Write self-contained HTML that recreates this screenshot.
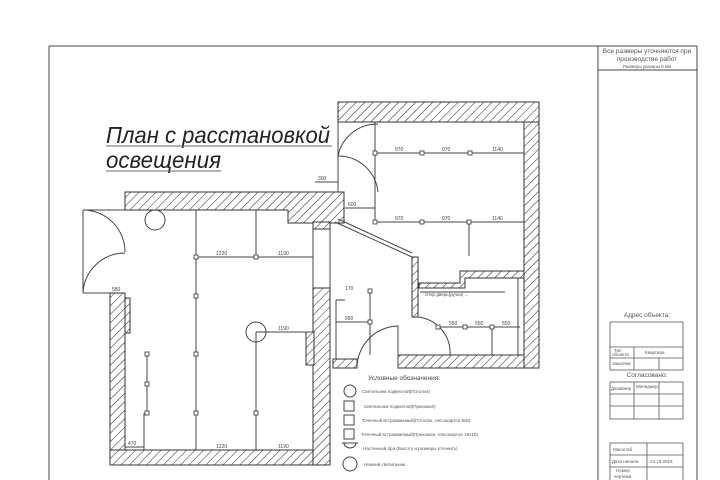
<!DOCTYPE html>
<html><head><meta charset="utf-8"><style>
html,body{margin:0;padding:0;background:#fff;}
svg{display:block;font-family:"Liberation Sans","Noto Sans CJK SC",sans-serif;}
</style></head><body>
<svg width="720" height="480" viewBox="0 0 720 480" xmlns="http://www.w3.org/2000/svg">
<defs>
<pattern id="h" patternUnits="userSpaceOnUse" width="6" height="6" patternTransform="rotate(45)">
<rect width="6" height="6" fill="#fff"/><line x1="0" y1="0" x2="0" y2="6" stroke="#333" stroke-width="1.1"/>
</pattern>
</defs>
<rect width="720" height="480" fill="#fff"/>
<g stroke="#444" stroke-width="1" fill="none">
<line x1="49" y1="46" x2="697" y2="46"/>
<line x1="49" y1="46" x2="49" y2="480"/>
<line x1="598" y1="46" x2="598" y2="480"/>
<line x1="697" y1="46" x2="697" y2="480"/>
<line x1="598" y1="70" x2="697" y2="70"/>
</g>
<g font-size="6.5" fill="#555" text-anchor="middle">
<text x="647" y="53">Все размеры уточняются при</text>
<text x="647" y="61">производстве работ</text>
<text x="647" y="68" font-size="4.5">Размеры указаны в мм</text>
</g>
<g font-style="italic" font-size="23" fill="#222">
<text x="106" y="143" textLength="224" lengthAdjust="spacingAndGlyphs">План с расстановкой</text>
<text x="106" y="168" textLength="115" lengthAdjust="spacingAndGlyphs">освещения</text>
</g>
<line x1="106" y1="146" x2="332" y2="146" stroke="#666"/>
<line x1="106" y1="171" x2="221" y2="171" stroke="#666"/>
<g fill="url(#h)" stroke="#333" stroke-width="1">
<polygon points="125,192 344,192 344,223 288,223 288,210 125,210"/>
<rect x="110" y="293" width="15" height="172"/>
<rect x="125" y="298" width="5" height="35"/>
<rect x="110" y="450" width="220" height="15"/>
<rect x="313" y="288" width="17" height="177"/>
<rect x="306" y="332" width="8" height="33"/>
<rect x="313" y="222" width="17" height="7"/>
<rect x="338" y="102" width="201" height="20"/>
<rect x="524" y="122" width="15" height="246"/>
<rect x="398" y="355" width="126" height="13"/>
<rect x="333" y="359" width="24" height="9"/>
<rect x="412" y="257" width="6" height="60"/>
<polygon points="460,271 524,271 524,278 465,278 465,288 419,288 419,283 460,283"/>
</g>
<g stroke="#444" stroke-width="1" fill="none">
<line x1="313" y1="229" x2="313" y2="288"/>
<line x1="330" y1="229" x2="330" y2="288"/>
<line x1="338" y1="122" x2="338" y2="192"/>
<line x1="335" y1="222" x2="412" y2="257"/>
<line x1="338" y1="219" x2="412" y2="253"/>
<line x1="518" y1="278" x2="518" y2="355"/>
<line x1="83" y1="210" x2="83" y2="293"/>
<line x1="83" y1="210" x2="125" y2="210"/>
<line x1="83" y1="293" x2="110" y2="293"/>
<path d="M83,210 A42,42 0 0 1 125,252"/>
<path d="M125,253 A42,42 0 0 0 83,293"/>
<path d="M338,156 A40,40 0 0 1 378,192"/>
<path d="M338,156 A40,40 0 0 1 378,124"/>
<path d="M418,317 A36,36 0 0 1 450,355"/>
<path d="M357,368 A42,42 0 0 1 398,326 L398,368"/>
<line x1="336" y1="300" x2="336" y2="359"/>
<line x1="336" y1="300" x2="345" y2="300"/>
<circle cx="155" cy="220" r="10"/>
<circle cx="256" cy="332" r="10"/>
<line x1="196" y1="210" x2="196" y2="450"/>
<line x1="196" y1="257" x2="313" y2="257"/>
<line x1="256" y1="210" x2="256" y2="257"/>
<line x1="256" y1="332" x2="313" y2="332"/>
<line x1="256" y1="332" x2="256" y2="450"/>
<line x1="147" y1="354" x2="147" y2="413"/>
<line x1="144" y1="413" x2="144" y2="450"/>
<line x1="125" y1="447" x2="144" y2="447"/>
<line x1="375" y1="122" x2="375" y2="222"/>
<line x1="375" y1="153" x2="524" y2="153"/>
<line x1="375" y1="222" x2="524" y2="222"/>
<line x1="469" y1="222" x2="469" y2="256"/>
<line x1="438" y1="327" x2="520" y2="327"/>
<line x1="492" y1="327" x2="492" y2="355"/>
<line x1="370" y1="290" x2="370" y2="355"/>
<line x1="336" y1="322" x2="370" y2="322"/>
<line x1="345" y1="208" x2="375" y2="208"/>
<line x1="315" y1="182" x2="338" y2="182"/>
<line x1="420" y1="292" x2="505" y2="292"/>
</g>
<g fill="#fff" stroke="#333" stroke-width="0.8">
<rect x="194" y="255" width="4" height="4"/><rect x="194" y="294" width="4" height="4"/>
<rect x="194" y="352" width="4" height="4"/><rect x="194" y="411" width="4" height="4"/>
<rect x="254" y="255" width="4" height="4"/><rect x="254" y="411" width="4" height="4"/>
<rect x="145" y="352" width="4" height="4"/><rect x="145" y="382" width="4" height="4"/><rect x="145" y="411" width="4" height="4"/>
<rect x="373" y="151" width="4" height="4"/><rect x="420" y="151" width="4" height="4"/><rect x="468" y="151" width="4" height="4"/>
<rect x="373" y="220" width="4" height="4"/><rect x="420" y="220" width="4" height="4"/><rect x="467" y="220" width="4" height="4"/>
<rect x="436" y="325" width="4" height="4"/><rect x="463" y="325" width="4" height="4"/><rect x="490" y="325" width="4" height="4"/>
<rect x="368" y="320" width="4" height="4"/><rect x="368" y="289" width="4" height="4"/>
</g>
<g font-size="5" fill="#444">
<text x="216" y="255">1220</text><text x="278" y="255">1190</text>
<text x="278" y="330">1190</text><text x="216" y="448">1220</text><text x="278" y="448">1190</text>
<text x="395" y="151">970</text><text x="442" y="151">970</text><text x="492" y="151">1140</text>
<text x="395" y="220">970</text><text x="442" y="220">970</text><text x="492" y="220">1140</text>
<text x="449" y="325">550</text><text x="475" y="325">550</text><text x="502" y="325">550</text>
<text x="345" y="320">650</text><text x="345" y="290">170</text>
<text x="348" y="206">600</text><text x="318" y="180">300</text>
<text x="112" y="291">580</text><text x="128" y="445">470</text>
<text x="425" y="296" font-size="4.5">Откр дверь(ручка) ...</text>
</g>
<text x="368" y="380" font-size="6.5" fill="#444">Условные обозначения:</text>
<g stroke="#444" fill="none">
<circle cx="350" cy="391" r="6"/>
<rect x="344" y="401" width="10" height="10"/>
<rect x="344" y="415" width="10" height="10"/>
<rect x="344" y="429" width="10" height="10"/>
<path d="M342,443 L358,443 M344,443 A6,5 0 0 0 356,443"/>
<circle cx="350" cy="464" r="7"/>
</g>
<g font-size="4.5" fill="#555">
<text x="362" y="393">Светильник подвесной(Потолок)</text>
<text x="364" y="408">Светильник подвесной(Прихожая)</text>
<text x="362" y="422">Точечный встраиваемый(Потолок, гипсокартон 8x8)</text>
<text x="361" y="436">Точечный встраиваемый(Прихожая, гипсокартон 18x10)</text>
<text x="363" y="450">Настенный бра (Высоту и размеры уточнить)</text>
<text x="364" y="466">Нижний светильник</text>
</g>
<text x="647" y="317" font-size="6.5" fill="#555" text-anchor="middle">Адрес объекта:</text>
<g stroke="#555" fill="none" stroke-width="0.8">
<rect x="610" y="322" width="73" height="48"/>
<line x1="610" y1="347" x2="683" y2="347"/><line x1="610" y1="358" x2="683" y2="358"/>
<line x1="634" y1="347" x2="634" y2="370"/><line x1="659" y1="358" x2="659" y2="370"/>
<rect x="610" y="382" width="73" height="37"/>
<line x1="610" y1="394" x2="683" y2="394"/><line x1="610" y1="406" x2="683" y2="406"/>
<line x1="634" y1="382" x2="634" y2="419"/><line x1="659" y1="382" x2="659" y2="419"/>
<rect x="610" y="443" width="73" height="40"/>
<line x1="610" y1="455" x2="683" y2="455"/><line x1="610" y1="467" x2="683" y2="467"/>
<line x1="647" y1="443" x2="647" y2="480"/>
</g>
<text x="647" y="377" font-size="6.5" fill="#555" text-anchor="middle">Согласовано:</text>
<g font-size="4.5" fill="#555">
<text x="614" y="352">Тип</text><text x="612" y="356">объекта</text><text x="645" y="354">Квартира</text>
<text x="612" y="365">Заказчик</text>
<text x="611" y="390">Дизайнер</text><text x="636" y="388">Менеджер</text>
<text x="613" y="451">Масштаб</text><text x="612" y="463">Дата начала</text><text x="650" y="463">14.10.2015</text>
<text x="616" y="472">Номер</text><text x="614" y="478">чертежа</text>
</g>
</svg>
</body></html>
